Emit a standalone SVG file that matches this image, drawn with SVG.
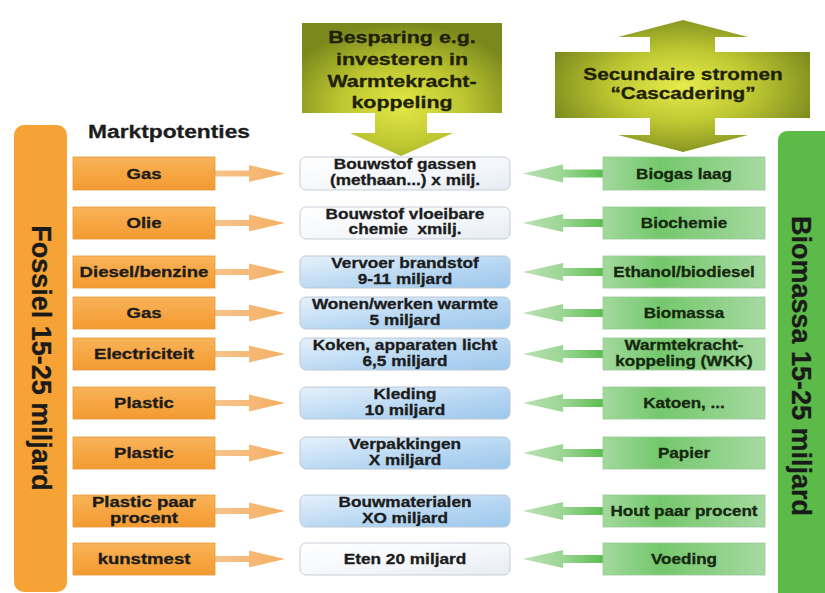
<svg xmlns="http://www.w3.org/2000/svg" xmlns:xlink="http://www.w3.org/1999/xlink" width="825" height="593" viewBox="0 0 825 593">
<defs>
<style>
.t{font-family:"Liberation Sans",Arial,sans-serif;font-weight:bold;fill:#1c1c1c;stroke:#1c1c1c;stroke-width:0.3;text-anchor:middle}
.l{font-size:14.5px}
.m{font-size:14px}
.r{font-size:14px;fill:#15280f;stroke:#15280f}
.o{font-size:17px;fill:#1f2008;stroke:#1f2008}
.side{font-size:27px;fill:#1a1a1a}
.ob{fill:url(#gOr);stroke:#E89A3A;stroke-width:0.8}
.mbB{fill:url(#gBl);stroke:#BCC8D4;stroke-width:1}
.mbW{fill:url(#gWh);stroke:#C8CED6;stroke-width:1}
.gb{fill:url(#gGr);stroke:#9CC79A;stroke-width:0.8}
</style>
<linearGradient id="gOr" x1="0" y1="0" x2="0" y2="1">
<stop offset="0" stop-color="#F8B45A"/><stop offset="0.5" stop-color="#F6A643"/><stop offset="1" stop-color="#F39A31"/>
</linearGradient>
<linearGradient id="gBl" x1="0" y1="0" x2="1" y2="1">
<stop offset="0" stop-color="#E6F1FB"/><stop offset="0.6" stop-color="#B5D6F2"/><stop offset="1" stop-color="#9CC7EC"/>
</linearGradient>
<linearGradient id="gWh" x1="0" y1="0" x2="1" y2="1">
<stop offset="0" stop-color="#FFFFFF"/><stop offset="0.6" stop-color="#F3F6FA"/><stop offset="1" stop-color="#E6ECF2"/>
</linearGradient>
<linearGradient id="gGr" x1="0" y1="0" x2="1" y2="0">
<stop offset="0" stop-color="#A3D99D"/><stop offset="0.35" stop-color="#74C86C"/><stop offset="0.7" stop-color="#8ED188"/><stop offset="1" stop-color="#A6DAA1"/>
</linearGradient>
<linearGradient id="gGA" x1="0" y1="0" x2="1" y2="0">
<stop offset="0" stop-color="#B9E1B4"/><stop offset="0.5" stop-color="#9BD694"/><stop offset="1" stop-color="#5CBD50"/>
</linearGradient>
<linearGradient id="gOA" x1="0" y1="0" x2="1" y2="0">
<stop offset="0" stop-color="#F6C48C"/><stop offset="1" stop-color="#F4AE62"/>
</linearGradient>
<radialGradient id="gOl1" cx="0.5" cy="0.62" r="0.62">
<stop offset="0" stop-color="#E2E846"/><stop offset="0.5" stop-color="#BCC630"/><stop offset="1" stop-color="#7A881C"/>
</radialGradient>
<radialGradient id="gOl2" cx="0.5" cy="0.5" r="0.55">
<stop offset="0" stop-color="#E6EC4C"/><stop offset="0.5" stop-color="#BEC832"/><stop offset="1" stop-color="#7D8B1E"/>
</radialGradient>
<path id="oa" d="M0,-3 H34 V-8.5 L70,0 L34,8.5 V3 H0 Z"/>
<path id="ga" d="M0,-4 H-40 V-9 L-80,0 L-40,9 V4 H0 Z"/>
</defs>
<rect width="825" height="593" fill="#FFFFFF"/>

<g id="fossiel">
<rect x="14" y="125" width="53" height="467" rx="10" fill="#F6A234"/>
<text class="t side" transform="translate(32 358) rotate(90)">Fossiel 15-25 miljard</text>
</g>
<g id="biomassa">
<rect x="778" y="131" width="62" height="475" rx="9" fill="#5CBB48"/>
<text class="t side" transform="translate(792 366) rotate(90)">Biomassa 15-25 miljard</text>
</g>

<g id="besparing">
<path d="M302,23 H502 V113 H427 V133 H453 L401,156 L350,133 H375 V113 H302 Z" fill="url(#gOl1)"/>
<text class="t o" transform="matrix(1.26 0 0 1 402 43)">Besparing e.g.</text>
<text class="t o" transform="matrix(1.26 0 0 1 402 65)">investeren in</text>
<text class="t o" transform="matrix(1.26 0 0 1 402 87)">Warmtekracht-</text>
<text class="t o" transform="matrix(1.26 0 0 1 402 108)">koppeling</text>
</g>
<g id="secundaire">
<path d="M683,20 L748,37 H715 V52 H810 V118 H715 V135 H748 L683,152 L618,135 H650 V118 H555 V52 H650 V37 H618 Z" fill="url(#gOl2)"/>
<text class="t o" transform="matrix(1.22 0 0 1 683 80)">Secundaire stromen</text>
<text class="t o" transform="matrix(1.22 0 0 1 683 99)">“Cascadering”</text>
</g>

<text id="marktpotenties" class="t" style="font-size:19px;text-anchor:start" transform="matrix(1.2 0 0 1 88 138)">Marktpotenties</text>

<g id="connectors">
<g fill="url(#gOA)">
<use xlink:href="#oa" x="215" y="173.5"/>
<use xlink:href="#oa" x="215" y="223"/>
<use xlink:href="#oa" x="215" y="272"/>
<use xlink:href="#oa" x="215" y="313"/>
<use xlink:href="#oa" x="215" y="354"/>
<use xlink:href="#oa" x="215" y="403"/>
<use xlink:href="#oa" x="215" y="453"/>
<use xlink:href="#oa" x="215" y="511"/>
<use xlink:href="#oa" x="215" y="559"/>
</g>
<g fill="url(#gGA)">
<use xlink:href="#ga" x="603" y="173.5"/>
<use xlink:href="#ga" x="603" y="223"/>
<use xlink:href="#ga" x="603" y="272"/>
<use xlink:href="#ga" x="603" y="313"/>
<use xlink:href="#ga" x="603" y="354"/>
<use xlink:href="#ga" x="603" y="403"/>
<use xlink:href="#ga" x="603" y="453"/>
<use xlink:href="#ga" x="603" y="511"/>
<use xlink:href="#ga" x="603" y="559"/>
</g>
</g>

<g id="l1"><rect class="ob" x="73" y="157" width="142" height="33"/><text class="t l" transform="matrix(1.28 0 0 1 144 179)">Gas</text></g>
<g id="l2"><rect class="ob" x="73" y="207" width="142" height="32"/><text class="t l" transform="matrix(1.28 0 0 1 144 228)">Olie</text></g>
<g id="l3"><rect class="ob" x="73" y="256" width="142" height="32"/><text class="t l" transform="matrix(1.28 0 0 1 144 277)">Diesel/benzine</text></g>
<g id="l4"><rect class="ob" x="73" y="297" width="142" height="32"/><text class="t l" transform="matrix(1.28 0 0 1 144 318)">Gas</text></g>
<g id="l5"><rect class="ob" x="73" y="338" width="142" height="32"/><text class="t l" transform="matrix(1.28 0 0 1 144 359)">Electriciteit</text></g>
<g id="l6"><rect class="ob" x="73" y="387" width="142" height="32"/><text class="t l" transform="matrix(1.28 0 0 1 144 408)">Plastic</text></g>
<g id="l7"><rect class="ob" x="73" y="437" width="142" height="32"/><text class="t l" transform="matrix(1.28 0 0 1 144 458)">Plastic</text></g>
<g id="l8"><rect class="ob" x="73" y="495" width="142" height="32"/><text class="t l" transform="matrix(1.28 0 0 1 144 507)">Plastic paar</text><text class="t l" transform="matrix(1.28 0 0 1 144 523)">procent</text></g>
<g id="l9"><rect class="ob" x="73" y="543" width="142" height="32"/><text class="t l" transform="matrix(1.28 0 0 1 144 564)">kunstmest</text></g>

<g id="m1"><rect class="mbW" x="300" y="157" width="210" height="33" rx="6"/><text class="t m" transform="matrix(1.23 0 0 1 405 169)">Bouwstof gassen</text><text class="t m" transform="matrix(1.23 0 0 1 405 185)">(methaan...) x milj.</text></g>
<g id="m2"><rect class="mbW" x="300" y="207" width="210" height="32" rx="6"/><text class="t m" transform="matrix(1.23 0 0 1 405 219)">Bouwstof vloeibare</text><text class="t m" transform="matrix(1.23 0 0 1 405 234)">chemie&#160; xmilj.</text></g>
<g id="m3"><rect class="mbB" x="300" y="256" width="210" height="32" rx="6"/><text class="t m" transform="matrix(1.23 0 0 1 405 268)">Vervoer brandstof</text><text class="t m" transform="matrix(1.23 0 0 1 405 284)">9-11 miljard</text></g>
<g id="m4"><rect class="mbB" x="300" y="297" width="210" height="32" rx="6"/><text class="t m" transform="matrix(1.23 0 0 1 405 309)">Wonen/werken warmte</text><text class="t m" transform="matrix(1.23 0 0 1 405 325)">5 miljard</text></g>
<g id="m5"><rect class="mbB" x="300" y="338" width="210" height="32" rx="6"/><text class="t m" transform="matrix(1.23 0 0 1 405 350)">Koken, apparaten licht</text><text class="t m" transform="matrix(1.23 0 0 1 405 366)">6,5 miljard</text></g>
<g id="m6"><rect class="mbB" x="300" y="387" width="210" height="32" rx="6"/><text class="t m" transform="matrix(1.23 0 0 1 405 399)">Kleding</text><text class="t m" transform="matrix(1.23 0 0 1 405 415)">10 miljard</text></g>
<g id="m7"><rect class="mbB" x="300" y="437" width="210" height="32" rx="6"/><text class="t m" transform="matrix(1.23 0 0 1 405 449)">Verpakkingen</text><text class="t m" transform="matrix(1.23 0 0 1 405 465)">X miljard</text></g>
<g id="m8"><rect class="mbB" x="300" y="495" width="210" height="32" rx="6"/><text class="t m" transform="matrix(1.23 0 0 1 405 507)">Bouwmaterialen</text><text class="t m" transform="matrix(1.23 0 0 1 405 523)">XO miljard</text></g>
<g id="m9"><rect class="mbW" x="300" y="543" width="210" height="32" rx="6"/><text class="t m" transform="matrix(1.23 0 0 1 405 564)">Eten 20 miljard</text></g>

<g id="r1"><rect class="gb" x="603" y="157" width="162" height="33"/><text class="t r" transform="matrix(1.22 0 0 1 684 179)">Biogas laag</text></g>
<g id="r2"><rect class="gb" x="603" y="207" width="162" height="32"/><text class="t r" transform="matrix(1.22 0 0 1 684 228)">Biochemie</text></g>
<g id="r3"><rect class="gb" x="603" y="256" width="162" height="32"/><text class="t r" transform="matrix(1.22 0 0 1 684 277)">Ethanol/biodiesel</text></g>
<g id="r4"><rect class="gb" x="603" y="297" width="162" height="32"/><text class="t r" transform="matrix(1.22 0 0 1 684 318)">Biomassa</text></g>
<g id="r5"><rect class="gb" x="603" y="338" width="162" height="32"/><text class="t r" transform="matrix(1.22 0 0 1 684 350)">Warmtekracht-</text><text class="t r" transform="matrix(1.22 0 0 1 684 366)">koppeling (WKK)</text></g>
<g id="r6"><rect class="gb" x="603" y="387" width="162" height="32"/><text class="t r" transform="matrix(1.22 0 0 1 684 408)">Katoen, ...</text></g>
<g id="r7"><rect class="gb" x="603" y="437" width="162" height="32"/><text class="t r" transform="matrix(1.22 0 0 1 684 458)">Papier</text></g>
<g id="r8"><rect class="gb" x="603" y="495" width="162" height="32"/><text class="t r" transform="matrix(1.22 0 0 1 684 516)">Hout paar procent</text></g>
<g id="r9"><rect class="gb" x="603" y="543" width="162" height="32"/><text class="t r" transform="matrix(1.22 0 0 1 684 564)">Voeding</text></g>
</svg>
